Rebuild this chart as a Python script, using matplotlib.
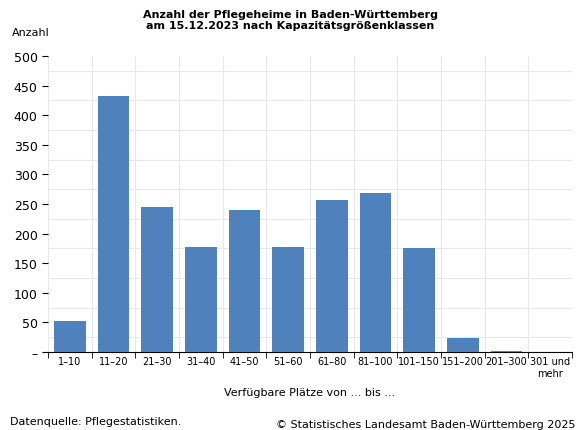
import matplotlib
matplotlib.use('Agg')
import matplotlib.pyplot as plt
import numpy as np

plt.rcParams['font.family'] = ['Verdana', 'DejaVu Sans']

klassen = ['1–10', '11–20', '21–30', '31–40', '41–50', '51–60', '61–80',
           '81–100', '101–150', '151–200', '201–300', '301 und\nmehr']
anzahl = [52, 433, 245, 178, 240, 178, 257, 268, 176, 24, 2, 0]
y_ticks = [0, 50, 100, 150, 200, 250, 300, 350, 400, 450, 500]
y_labels = ['–'] + [str(v) for v in y_ticks[1:]]

fig = plt.figure(figsize=(5.81, 4.31), dpi=100)
ax = fig.add_axes([48 / 581, 1 - 353 / 431, 524 / 581, 296 / 431])

x = np.arange(len(klassen))
ax.bar(x, anzahl, width=0.72, color='#4f81bd', zorder=3)

ax.set_xlim(-0.5, len(klassen) - 0.5)
ax.set_ylim(0, 500)
ax.set_yticks(y_ticks)
ax.set_yticklabels(y_labels, fontsize=9)
ax.set_yticks(np.arange(0, 501, 25), minor=True)
ax.set_xticks(x)
ax.set_xticklabels(klassen, fontsize=7)
ax.set_xticks(np.arange(-0.5, len(klassen), 1), minor=True)
ax.tick_params(axis='x', which='major', length=0, pad=3)
ax.tick_params(axis='x', which='minor', length=4, color='#000000')
ax.tick_params(axis='y', which='major', length=4)
ax.tick_params(axis='y', which='minor', length=0)
ax.grid(which='minor', color='#e8e8e8', linewidth=0.8, zorder=0)
for s in ['top', 'right', 'left']:
    ax.spines[s].set_visible(False)

fig.text(0.5, 1 - 10 / 431, 'Anzahl der Pflegeheime in Baden-Württemberg\nam 15.12.2023 nach Kapazitätsgrößenklassen',
         ha='center', va='top', fontsize=8, fontweight='bold', linespacing=1.1)
fig.text(12 / 581, 1 - 33 / 431, 'Anzahl', ha='left', va='center', fontsize=8)
fig.text(310 / 581, 1 - 393 / 431, 'Verfügbare Plätze von ... bis ...', ha='center', va='center', fontsize=8)
fig.text(10 / 581, 1 - 422 / 431, 'Datenquelle: Pflegestatistiken.', ha='left', va='center', fontsize=8)
fig.text(575 / 581, 1 - 425 / 431, '© Statistisches Landesamt Baden-Württemberg 2025', ha='right', va='center', fontsize=8)

fig.savefig('out.png', dpi=100)
